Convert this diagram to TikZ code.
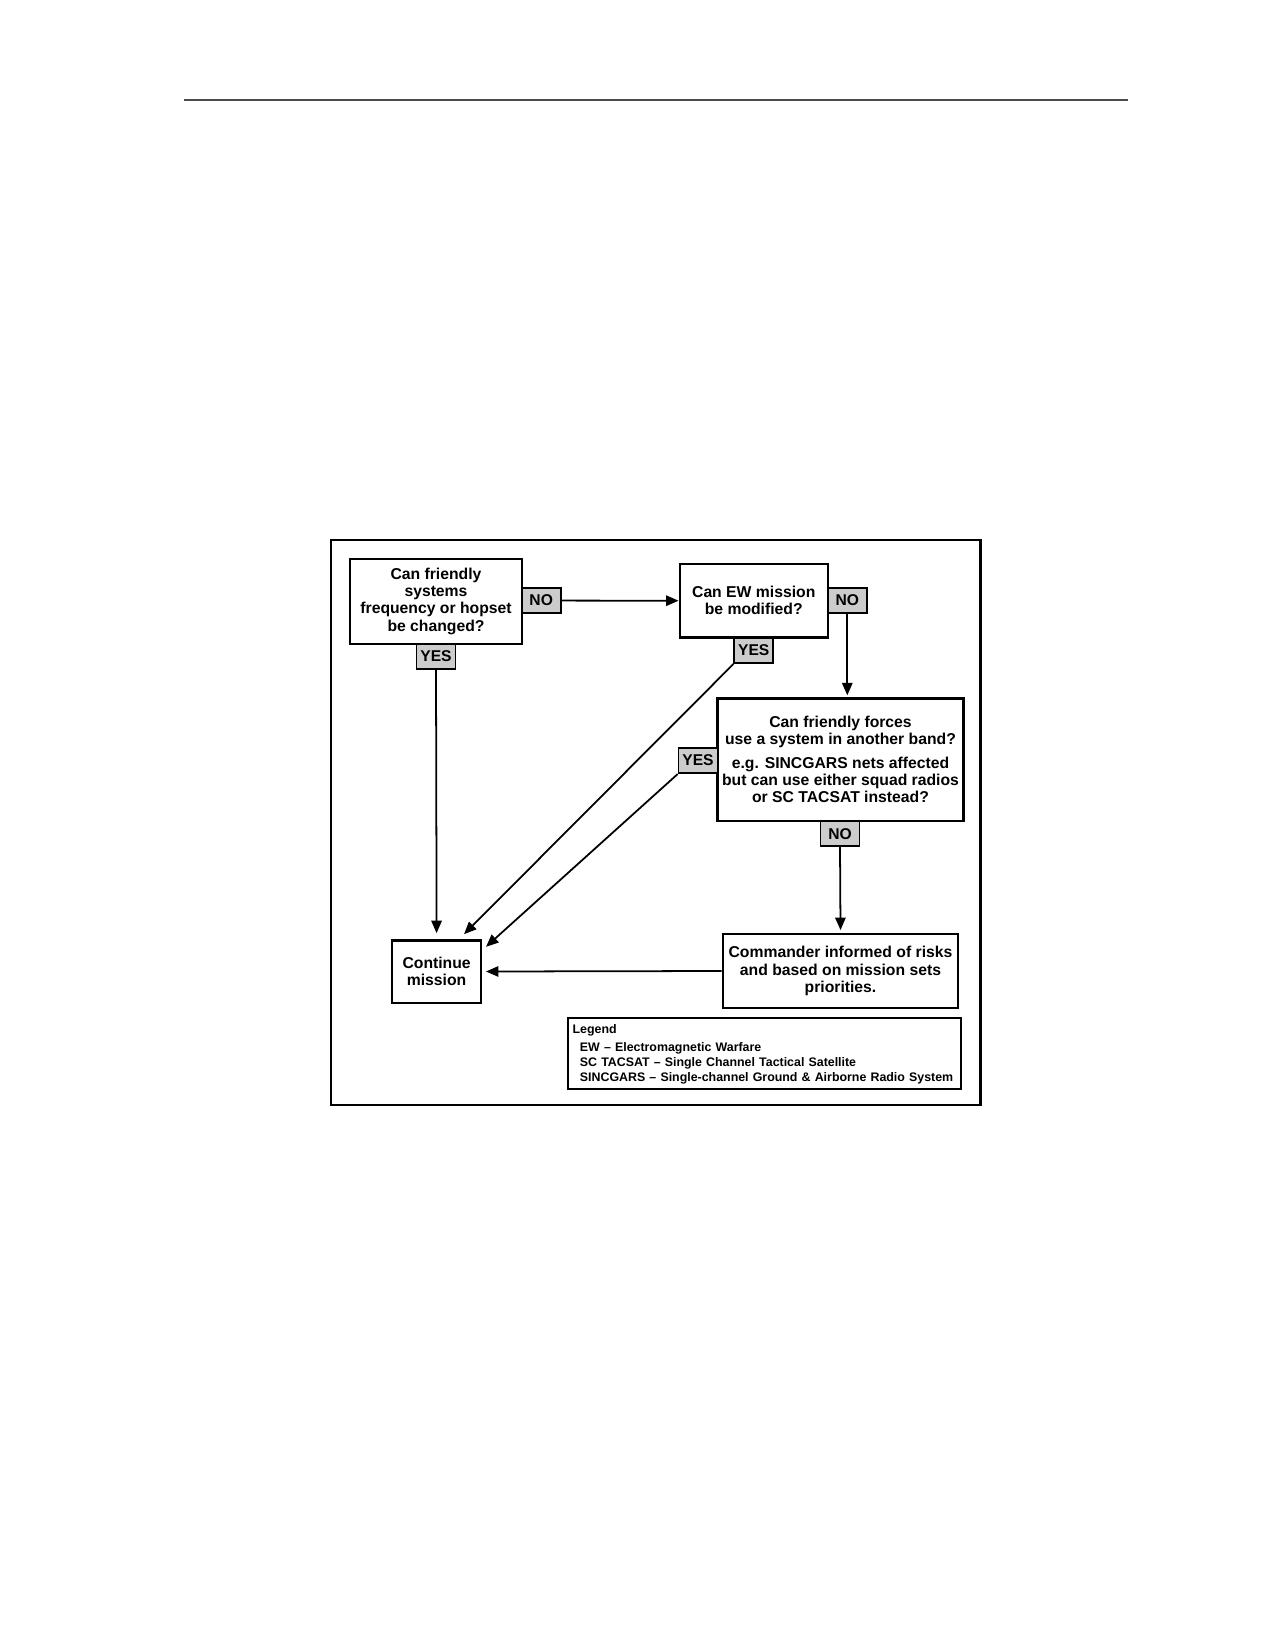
\documentclass[tikz,border=0pt]{standalone}
\usepackage{fontspec}
\setmainfont{Liberation Sans}
\usetikzlibrary{arrows.meta}
\definecolor{answergray}{gray}{0.8}
\tikzset{
  qbox/.style={draw, line width=1pt, align=center, inner sep=2pt,
    font=\fontsize{7.55}{8.3}\selectfont\bfseries},
  answer/.style={draw, line width=0.8pt, fill=answergray, minimum width=18.7pt,
    minimum height=12.1pt, inner sep=0pt, font=\fontsize{7.5}{8}\selectfont\bfseries},
  flow/.style={line width=0.85pt, -{Triangle[length=6pt,width=5pt]}}
}

\begin{document}
\begin{tikzpicture}[x=0.48pt, y=-0.48pt]
\useasboundingbox (0,0) rectangle (1275,1650);

% page rule and frame
\draw[line width=0.7pt, black!70] (184,100) -- (1128,100);
\draw[line width=1pt] (331.4,539.7) rectangle (980.5,1104.6);

% questions
\node[qbox, minimum width=82.3pt, minimum height=40.9pt] (canChange) at (436,601.2)
  {Can friendly\\systems\\frequency or hopset\\be changed?};
\node[qbox, minimum width=71.2pt, minimum height=35.3pt] (canModify) at (753.75,600.7)
  {Can EW mission\\be modified?};
\node[qbox, minimum width=118.1pt, minimum height=58.6pt] (otherBand) at (840.5,759.5)
  {Can friendly forces\\use a system in another band?\\[2.8pt]e.g. SINCGARS nets affected\\but can use either squad radios\\or SC TACSAT instead?};
\node[qbox, minimum width=42.4pt, minimum height=29.8pt] (continueMission) at (436.6,971.5)
  {Continue\\mission};
\node[qbox, minimum width=113.1pt, minimum height=35.3pt] (commander) at (840.5,971)
  {Commander informed of risks\\and based on mission sets\\priorities.};

% answers
\node[answer] (noChange) at (541.2,600.6) {NO};
\node[answer] (yesChange) at (436,656.4) {YES};
\node[answer] (noModify) at (847.3,600.6) {NO};
\node[answer] (yesModify) at (753.7,650.6) {YES};
\node[answer] (yesBand) at (698,760.6) {YES};
\node[answer] (noBand) at (840,833.7) {NO};

\coordinate (tipModify) at (464,934.2);
\coordinate (tipBand) at (486,946.8);

\draw[flow] (noChange.east) -- (canModify.west);
\draw[flow] (yesChange.south) -- ([yshift=3pt]continueMission.north);
\draw[flow, shorten >=1pt] (noModify.south) -- (noModify.south |- otherBand.north);
\draw[flow] (yesModify.south west) -- (tipModify);
\draw[flow] (yesBand.south west) -- (tipBand);
\draw[flow] (noBand.south) -- ([yshift=1.5pt]commander.north);
\draw[flow] (commander.west) -- ([xshift=2pt]continueMission.east);

% legend
\node[draw, line width=1pt, align=left, anchor=north west, text width=184pt,
  inner xsep=2.2pt, inner ysep=2pt,
  font=\fontsize{5.95}{7.3}\selectfont\bfseries] (legend) at (567,1017.3)
  {\rule{0pt}{5.4pt}Legend\\[1.2pt]
   \hspace*{3.5pt}EW – Electromagnetic Warfare\\
   \hspace*{3.5pt}SC TACSAT – Single Channel Tactical Satellite\\
   \hspace*{3.5pt}SINCGARS – Single-channel Ground \& Airborne Radio System};
\end{tikzpicture}
\end{document}
